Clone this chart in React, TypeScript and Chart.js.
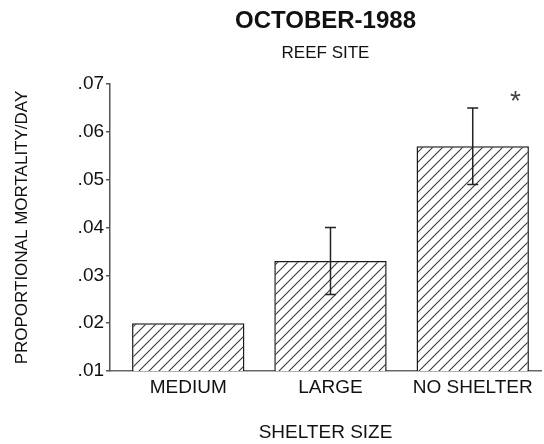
import React, { useEffect, useRef } from "react";
import { Chart, registerables } from "chart.js";

Chart.register(...registerables);

const categories = ["MEDIUM", "LARGE", "NO SHELTER"];
const categoryIndex = [0, 1, 2];
const mortality = [0.02, 0.033, 0.057];
const errorLow: (number | null)[] = [null, 0.026, 0.049];
const errorHigh: (number | null)[] = [null, 0.04, 0.065];
const significance = ["", "", "*"];
const titleText = "OCTOBER-1988";
const subtitleText = "REEF SITE";
const xTitleText = "SHELTER SIZE";
const yTitleText = "PROPORTIONAL MORTALITY/DAY";
const yMin = 0.01;
const yMax = 0.07;
const yStep = 0.01;

const FONT = "'Liberation Sans', Arial, Helvetica, sans-serif";

function makeHatch(): CanvasPattern | string {
  const c = document.createElement("canvas");
  c.width = 10;
  c.height = 10;
  const ctx = c.getContext("2d");
  if (!ctx) return "#fff";
  ctx.fillStyle = "#ffffff";
  ctx.fillRect(0, 0, 10, 10);
  ctx.strokeStyle = "#3a3a3a";
  ctx.lineWidth = 1.1;
  ctx.beginPath();
  ctx.moveTo(-1, 11);
  ctx.lineTo(11, -1);
  ctx.moveTo(-6, 6);
  ctx.lineTo(6, -6);
  ctx.moveTo(4, 16);
  ctx.lineTo(16, 4);
  ctx.stroke();
  return ctx.createPattern(c, "repeat") || "#fff";
}

const errorBarPlugin = {
  id: "errorBars",
  afterDatasetsDraw(chart: any) {
    const meta = chart.getDatasetMeta(0);
    const ys = chart.scales.y;
    const xs = chart.scales.x;
    const ctx = chart.ctx as CanvasRenderingContext2D;
    ctx.save();
    ctx.strokeStyle = "#222";
    ctx.lineWidth = 1.5;
    meta.data.forEach((bar: any, i: number) => {
      const lo = errorLow[i];
      const hi = errorHigh[i];
      if (lo == null || hi == null) return;
      const x = bar.x;
      const yl = ys.getPixelForValue(lo);
      const yh = ys.getPixelForValue(hi);
      ctx.beginPath();
      ctx.moveTo(x, yl);
      ctx.lineTo(x, yh);
      ctx.moveTo(x - 5.5, yh);
      ctx.lineTo(x + 5.5, yh);
      ctx.moveTo(x - 5.5, yl);
      ctx.lineTo(x + 5.5, yl);
      ctx.stroke();
      const mark = significance[i];
      if (mark) {
        ctx.fillStyle = "#444";
        ctx.font = `28px ${FONT}`;
        ctx.textAlign = "center";
        ctx.textBaseline = "alphabetic";
        ctx.fillText(mark, xs.getPixelForValue(categoryIndex[i] + 0.3), yh + 2);
      }
    });
    ctx.restore();
  },
};

export default function App() {
  const canvasRef = useRef<HTMLCanvasElement | null>(null);

  useEffect(() => {
    document.body.style.margin = "0";
    const canvas = canvasRef.current;
    if (!canvas) return;
    const hatch = makeHatch();
    const chart = new Chart(canvas, {
      type: "bar",
      data: {
        datasets: [
          {
            data: categoryIndex.map((x, i) => ({ x, y: mortality[i] })),
            backgroundColor: hatch as any,
            borderColor: "#1a1a1a",
            borderWidth: 1.5,
            borderSkipped: false,
            barPercentage: 0.79,
            categoryPercentage: 1,
          },
        ],
      },
      options: {
        animation: false,
        responsive: false,
        layout: { padding: { left: 0, right: 3, top: 0, bottom: 0 } },
        plugins: {
          legend: { display: false },
          tooltip: { enabled: false },
          title: {
            display: true,
            text: titleText,
            fullSize: false,
            color: "#111",
            font: { family: FONT, size: 24, weight: "bold" },
            padding: { top: 6.5, bottom: 0 },
          },
          subtitle: {
            display: true,
            text: subtitleText,
            fullSize: false,
            color: "#111",
            font: { family: FONT, size: 17 },
            padding: { top: 8, bottom: 20.4 },
          },
        },
        scales: {
          x: {
            type: "linear",
            min: -0.55,
            max: 2.48,
            offset: false,
            afterBuildTicks: (scale: any) => {
              scale.ticks = categoryIndex.map((v) => ({ value: v }));
            },
            ticks: {
              padding: 5,
              color: "#111",
              font: { family: FONT, size: 19 },
              maxRotation: 0,
              autoSkip: false,
              callback: (v: any) => categories[Math.round(Number(v))] ?? "",
            },
            grid: { display: false, drawTicks: false },
            border: { display: true, color: "#666", width: 1.5 },
            title: {
              display: true,
              text: xTitleText,
              color: "#111",
              font: { family: FONT, size: 19 },
              padding: { top: 17.4, bottom: 0 },
            },
          },
          y: {
            type: "linear",
            min: yMin,
            max: yMax,
            ticks: {
              stepSize: yStep,
              padding: 2,
              color: "#111",
              font: { family: FONT, size: 19 },
              callback: (v: any) => Number(v).toFixed(2).replace(/^0/, ""),
            },
            grid: {
              display: true,
              drawOnChartArea: false,
              drawTicks: true,
              tickLength: 4,
              color: "#555",
              lineWidth: 1.5,
            },
            border: { display: true, color: "#555", width: 1.5 },
            title: {
              display: true,
              text: yTitleText,
              color: "#111",
              font: { family: FONT, size: 17 },
              padding: { top: 12, bottom: 43.2 },
            },
          },
        },
      },
      plugins: [errorBarPlugin],
    });
    return () => chart.destroy();
  }, []);

  return (
    <div style={{ width: 544, height: 444 }}>
      <canvas ref={canvasRef} width={544} height={444} />
    </div>
  );
}
